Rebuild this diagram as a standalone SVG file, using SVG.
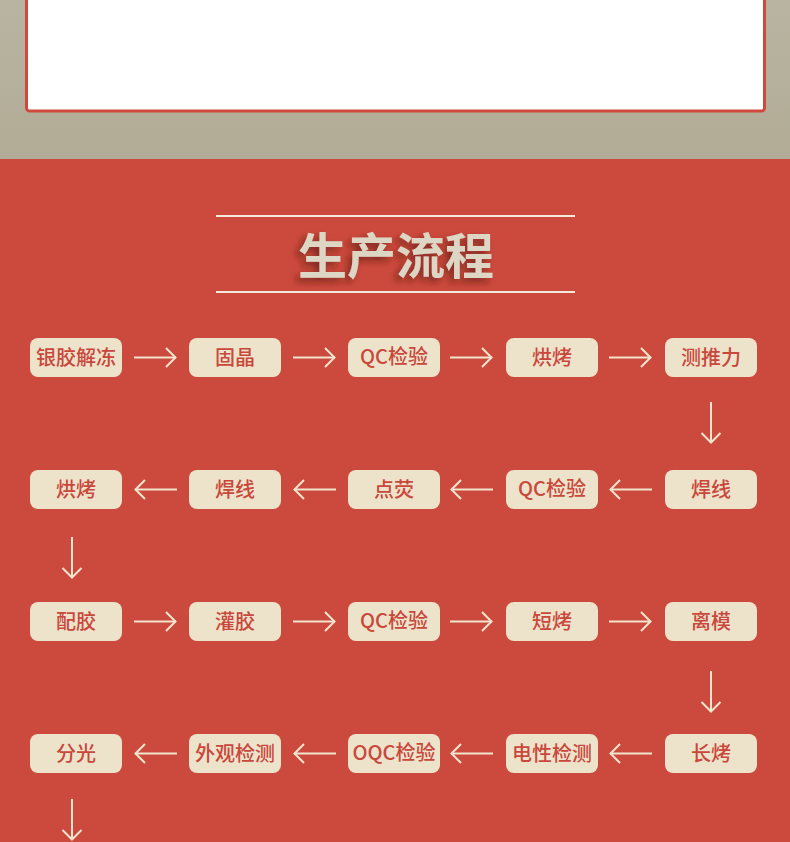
<svg xmlns="http://www.w3.org/2000/svg" width="790" height="842" viewBox="0 0 790 842">
<defs>
<linearGradient id="gray" x1="0" y1="0" x2="0" y2="1">
<stop offset="0" stop-color="#b9b4a2"/>
<stop offset="1" stop-color="#b2ac96"/>
</linearGradient>
<filter id="tshadow" x="-20%" y="-30%" width="140%" height="160%">
<feGaussianBlur in="SourceAlpha" stdDeviation="3.500"/>
<feOffset dx="-4" dy="4" result="b"/>
<feFlood flood-color="#5a1a12" flood-opacity="0.7"/>
<feComposite in2="b" operator="in" result="s"/>
<feMerge><feMergeNode in="s"/><feMergeNode in="SourceGraphic"/></feMerge>
</filter>
<marker id="ah" viewBox="0 0 12 22" refX="11" refY="11" markerWidth="12" markerHeight="22" markerUnits="userSpaceOnUse" orient="auto">
<path d="M1,1.500 L10.500,11 L1,20.500" fill="none" stroke="#f2e4cd" stroke-width="2"/>
</marker>
</defs>
<style>
.node rect{fill:#ede3cb}
.node text{fill:#c9473b;font-family:"Noto Sans CJK SC","Noto Sans",sans-serif;font-size:20px;font-weight:500;text-anchor:middle}
.conn line{stroke:#f2e4cd;stroke-width:2;fill:none;marker-end:url(#ah)}
</style>
<rect x="0" y="0" width="790" height="159" fill="url(#gray)"/>
<rect x="26.500" y="-10" width="738" height="121" rx="3" fill="#ffffff" stroke="#cf4a3c" stroke-width="3"/>
<rect x="0" y="159" width="790" height="683" fill="#cc4a3d"/>
<g id="title">
<line x1="216" y1="216" x2="575" y2="216" stroke="#f3e9dc" stroke-width="2"/>
<line x1="216" y1="292" x2="575" y2="292" stroke="#f3e9dc" stroke-width="2"/>
<text x="396" y="274" filter="url(#tshadow)" fill="#ddd6c5" font-family="'Noto Sans CJK SC',sans-serif" font-size="49" font-weight="700" text-anchor="middle">生产流程</text>
</g>
<g id="n1" class="node"><rect x="30" y="338" width="92" height="39" rx="8"/><text x="76" y="365">银胶解冻</text></g>
<g id="n2" class="node"><rect x="189" y="338" width="92" height="39" rx="8"/><text x="235" y="365">固晶</text></g>
<g id="n3" class="node"><rect x="348" y="338" width="92" height="39" rx="8"/><text x="394" y="364">QC检验</text></g>
<g id="n4" class="node"><rect x="506" y="338" width="92" height="39" rx="8"/><text x="552" y="365">烘烤</text></g>
<g id="n5" class="node"><rect x="665" y="338" width="92" height="39" rx="8"/><text x="711" y="365">测推力</text></g>
<g id="n6" class="node"><rect x="665" y="470" width="92" height="39" rx="8"/><text x="711" y="497">焊线</text></g>
<g id="n7" class="node"><rect x="506" y="470" width="92" height="39" rx="8"/><text x="552" y="496">QC检验</text></g>
<g id="n8" class="node"><rect x="348" y="470" width="92" height="39" rx="8"/><text x="394" y="497">点荧</text></g>
<g id="n9" class="node"><rect x="189" y="470" width="92" height="39" rx="8"/><text x="235" y="497">焊线</text></g>
<g id="n10" class="node"><rect x="30" y="470" width="92" height="39" rx="8"/><text x="76" y="497">烘烤</text></g>
<g id="n11" class="node"><rect x="30" y="602" width="92" height="39" rx="8"/><text x="76" y="629">配胶</text></g>
<g id="n12" class="node"><rect x="189" y="602" width="92" height="39" rx="8"/><text x="235" y="629">灌胶</text></g>
<g id="n13" class="node"><rect x="348" y="602" width="92" height="39" rx="8"/><text x="394" y="628">QC检验</text></g>
<g id="n14" class="node"><rect x="506" y="602" width="92" height="39" rx="8"/><text x="552" y="629">短烤</text></g>
<g id="n15" class="node"><rect x="665" y="602" width="92" height="39" rx="8"/><text x="711" y="629">离模</text></g>
<g id="n16" class="node"><rect x="665" y="734" width="92" height="39" rx="8"/><text x="711" y="761">长烤</text></g>
<g id="n17" class="node"><rect x="506" y="734" width="92" height="39" rx="8"/><text x="552" y="761">电性检测</text></g>
<g id="n18" class="node"><rect x="348" y="734" width="92" height="39" rx="8"/><text x="394" y="760">OQC检验</text></g>
<g id="n19" class="node"><rect x="189" y="734" width="92" height="39" rx="8"/><text x="235" y="761">外观检测</text></g>
<g id="n20" class="node"><rect x="30" y="734" width="92" height="39" rx="8"/><text x="76" y="761">分光</text></g>
<g id="connectors" class="conn">
<line x1="134" y1="357.500" x2="176" y2="357.500"/>
<line x1="293" y1="357.500" x2="335" y2="357.500"/>
<line x1="450" y1="357.500" x2="492" y2="357.500"/>
<line x1="609" y1="357.500" x2="651" y2="357.500"/>
<line x1="711" y1="402" x2="711" y2="443"/>
<line x1="652" y1="489.500" x2="610" y2="489.500"/>
<line x1="493" y1="489.500" x2="451" y2="489.500"/>
<line x1="336" y1="489.500" x2="294" y2="489.500"/>
<line x1="177" y1="489.500" x2="135" y2="489.500"/>
<line x1="72" y1="537" x2="72" y2="578"/>
<line x1="134" y1="621.500" x2="176" y2="621.500"/>
<line x1="293" y1="621.500" x2="335" y2="621.500"/>
<line x1="450" y1="621.500" x2="492" y2="621.500"/>
<line x1="609" y1="621.500" x2="651" y2="621.500"/>
<line x1="711" y1="671" x2="711" y2="712"/>
<line x1="652" y1="753.500" x2="610" y2="753.500"/>
<line x1="493" y1="753.500" x2="451" y2="753.500"/>
<line x1="336" y1="753.500" x2="294" y2="753.500"/>
<line x1="177" y1="753.500" x2="135" y2="753.500"/>
<line x1="72" y1="799" x2="72" y2="840"/>
</g>
</svg>
